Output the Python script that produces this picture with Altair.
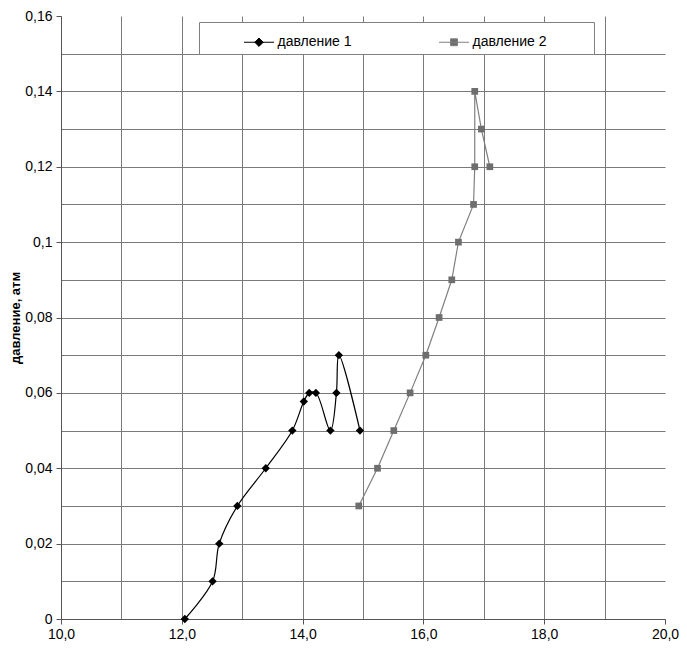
import altair as alt
import pandas as pd

series_names = ["давление 1", "давление 2"]

s1_x = [12.05, 12.51, 12.62, 12.92, 13.39, 13.83, 14.02, 14.11, 14.22, 14.46, 14.56, 14.60, 14.95]
s1_y = [0.0, 0.01, 0.02, 0.03, 0.04, 0.05, 0.0577, 0.06, 0.06, 0.05, 0.06, 0.07, 0.05]

s2_x = [14.93, 15.24, 15.51, 15.78, 16.04, 16.26, 16.47, 16.58, 16.83, 16.85, 16.85, 16.96, 17.10]
s2_y = [0.03, 0.04, 0.05, 0.06, 0.07, 0.08, 0.09, 0.10, 0.11, 0.12, 0.14, 0.13, 0.12]

x_ticks = [10, 11, 12, 13, 14, 15, 16, 17, 18, 19, 20]
y_ticks = [0, 0.01, 0.02, 0.03, 0.04, 0.05, 0.06, 0.07, 0.08, 0.09, 0.10,
           0.11, 0.12, 0.13, 0.14, 0.15, 0.16]

rows = []
for i, (x, y) in enumerate(zip(s1_x, s1_y)):
    rows.append({"series": series_names[0], "x": x, "y": y, "order": i})
for i, (x, y) in enumerate(zip(s2_x, s2_y)):
    rows.append({"series": series_names[1], "x": x, "y": y, "order": i})
df = pd.DataFrame(rows)

FONT = "Liberation Sans"
GRID = "#7a7a7a"
C1_LINE, C1_MARK = "black", "black"
C2_LINE, C2_MARK = "#808080", "#6e6e6e"

x_axis = alt.Axis(
    values=x_ticks,
    title=None,
    labelExpr="datum.value % 2 == 0 ? replace(format(datum.value, '.1f'), '.', ',') : ''",
    tickOpacity={"condition": {"test": "datum.value % 2 != 0", "value": 0}, "value": 1},
    gridOpacity={"condition": {"test": "datum.value >= 20", "value": 0}, "value": 1},
    grid=True, gridColor=GRID, gridWidth=1,
    domainColor="#555555", tickColor="#555555", tickSize=5,
    labelFont=FONT, labelFontSize=14, labelColor="black", labelPadding=3,
    labelFlush=False, labelOverlap=False,
)
y_axis = alt.Axis(
    values=y_ticks,
    title="давление, атм",
    titleFont=FONT, titleFontSize=13, titleFontWeight="bold", titleColor="black",
    titlePadding=2,
    labelExpr="round(datum.value * 100) % 2 == 0 ? replace(toString(datum.value), '.', ',') : ''",
    tickOpacity={"condition": {"test": "round(datum.value * 100) % 2 != 0", "value": 0}, "value": 1},
    gridOpacity={"condition": {"test": "datum.value >= 0.159", "value": 0}, "value": 1},
    grid=True, gridColor=GRID, gridWidth=1,
    domainColor="#555555", tickColor="#555555", tickSize=5,
    labelFont=FONT, labelFontSize=14, labelColor="black", labelPadding=4,
    labelFlush=False, labelOverlap=False,
)

x_enc = alt.X("x:Q", scale=alt.Scale(domain=[10, 20], nice=False, zero=False), axis=x_axis)
y_enc = alt.Y("y:Q", scale=alt.Scale(domain=[0, 0.16], nice=False), axis=y_axis)

diamond_path = "M-1,0L1,0M0,-0.28L0.28,0L0,0.28L-0.28,0Z"
square_path = "M-1,0L1,0M-0.23,-0.23L0.23,-0.23L0.23,0.23L-0.23,0.23Z"
# trailing spaces kept from trimming by a zero-width character
pad = "\u00a0" * 11 + "\u200b"

legend = alt.Legend(
    orient="none", legendX=138, legendY=6,
    direction="horizontal", columns=2, title=None,
    padding=4.5, symbolOffset=40, labelOffset=3, columnPadding=4,
    labelFont=FONT, labelFontSize=14, labelColor="black",
    symbolSize=900, symbolStrokeWidth=1, symbolOpacity=1,
    fillColor="white", strokeColor="#808080",
    labelExpr="datum.label + '" + pad + "'",
)

base = alt.Chart(df)
f1 = alt.datum.series == series_names[0]
f2 = alt.datum.series == series_names[1]

line1 = base.transform_filter(f1).mark_line(
    interpolate="catmull-rom", strokeWidth=1.2, color=C1_LINE
).encode(x=x_enc, y=y_enc, order="order:Q")

line2 = base.transform_filter(f2).mark_line(
    strokeWidth=1.2, color=C2_LINE
).encode(x=x_enc, y=y_enc, order="order:Q")

pts1 = base.transform_filter(f1).mark_point(
    filled=True, shape="diamond", size=70, color=C1_MARK, opacity=1
).encode(x=x_enc, y=y_enc)

pts2 = base.transform_filter(f2).mark_point(
    filled=True, shape="square", size=45, color=C2_MARK, opacity=1
).encode(x=x_enc, y=y_enc)

legend_layer = base.mark_point(opacity=0).encode(
    x=x_enc, y=y_enc,
    fill=alt.Fill("series:N", scale=alt.Scale(domain=series_names, range=[C1_MARK, C2_MARK]), legend=legend),
    stroke=alt.Stroke("series:N", scale=alt.Scale(domain=series_names, range=[C1_LINE, C2_LINE]), legend=legend),
    shape=alt.Shape("series:N", scale=alt.Scale(domain=series_names, range=[diamond_path, square_path]), legend=legend),
)

chart = alt.layer(line1, line2, pts1, pts2, legend_layer).properties(
    width=604, height=603,
    autosize=alt.AutoSizeParams(type="none"),
    padding={"left": 53, "top": 8, "right": 14, "bottom": 23},
    background="white",
).configure_view(stroke=None)

chart.save("out.html", embed_options={"renderer": "svg", "actions": False})
